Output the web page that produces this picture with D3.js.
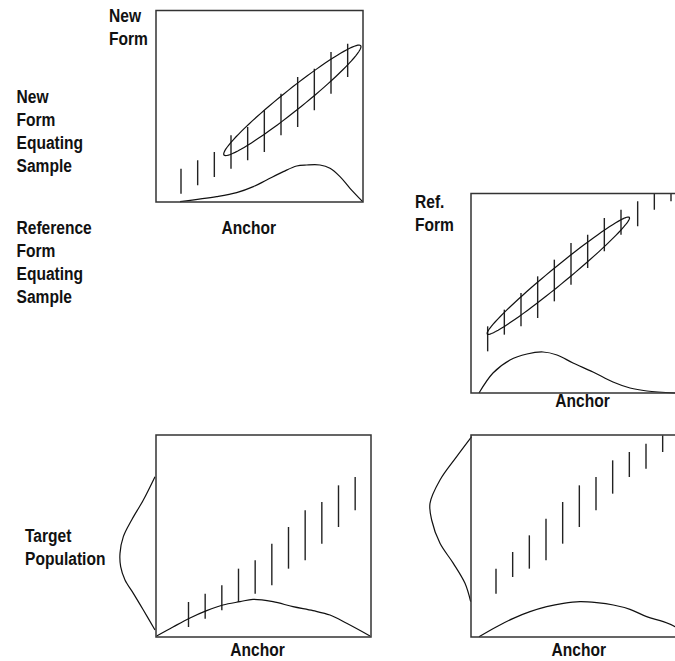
<!DOCTYPE html>
<html>
<head>
<meta charset="utf-8">
<script src="https://cdn.jsdelivr.net/npm/d3@7"></script>
<style>
  html, body { margin: 0; padding: 0; background: #fff; }
  svg { display: block; }
  text { font-family: "Liberation Sans", Arial, sans-serif; font-weight: bold; font-size: 19px; fill: #111; }
</style>
</head>
<body>
<svg id="chart" width="675" height="661"></svg>
<script>
// ---------------- DATA (score units) ----------------
// Conditional spread bars: anchor score, lower and upper bound of the form score
const anchorNew = [15, 25, 35, 45, 55, 65, 75, 85, 95, 105, 115];
const lowNew    = [5, 10, 15, 20, 25, 30, 40, 45, 55, 65, 75];
const highNew   = [20, 25, 30, 40, 45, 55, 65, 75, 80, 90, 95];

const anchorRef = [10, 20, 30, 40, 50, 60, 70, 80, 90, 100, 110, 120];
const lowRef    = [25, 35, 40, 45, 55, 65, 75, 85, 95, 100, 110, 115];
const highRef   = [40, 50, 60, 70, 80, 90, 95, 105, 110, 115, 120, 120];

const anchorTgtNew = [19.5, 29.5, 39.5, 49.5, 59.5, 69.5, 79.5, 89.5, 99.5, 109.5, 119.5];
const lowTgtNew    = [6, 11, 16, 21, 26, 31, 41, 46, 56, 66, 76];
const highTgtNew   = [21, 26, 31, 41, 46, 56, 66, 76, 81, 91, 96];

const anchorTgtRef = [15, 25, 35, 45, 55, 65, 75, 85, 95, 105, 115];
const lowTgtRef    = [26, 36, 41, 46, 56, 66, 76, 86, 96, 101, 111];
const highTgtRef   = [41, 51, 61, 71, 81, 91, 96, 106, 111, 116, 121];

// Bivariate ellipses: two tips of the major axis and half width
const ellipseNew = { tipA: [40.8, 28.2], tipB: [122.8, 93.8], half: 6.2 };
const ellipseRef = { tipA: [9.8, 35.4],  tipB: [95, 105.4],   half: 5.0 };

// Anchor score distributions [anchor, density]
const anchorDistNew = [[14.4,0.2],[36.4,3.2],[48.4,5.6],[58.4,9.2],[66.4,13.2],[76.4,18.2],[84.4,21.6],[90.4,22.2],[98.4,22.2],[104.4,20.2],[110.4,15.2],[116.4,8.2],[124,0.2]];
const anchorDistRef = [[4.8,0],[13.2,12],[23.4,19.8],[33.6,23.4],[43.2,24.6],[51.6,22.8],[61.2,18],[73.2,12.6],[85.2,6.6],[95.4,3],[105.6,1.2],[122.4,0]];
const anchorDistTgtNew = [[0.4,0.6],[10.2,6],[20.4,11.4],[30.4,15.8],[40.2,19.2],[50.4,21.2],[58.2,22.6],[70.2,21.2],[82.2,18.2],[94.2,15.8],[104.4,13.2],[114.4,8.2],[128.4,0.6]];
const anchorDistTgtRef = [[4.8,0.2],[15.4,6.2],[25.4,11.2],[35.4,15.2],[45.4,18.2],[55.4,20.2],[65.4,21.2],[75.4,20.6],[85.4,19.2],[95.4,16.6],[105.4,12.2],[115.4,9.2],[122.4,6.2],[131.4,0]];

// Form score distributions in the target population [-density, form score]
const formDistTgtNew = [[-0.6,96.2],[-7.6,82.2],[-14.6,70.2],[-19.6,60.2],[-21.6,50.2],[-21.2,42.2],[-18.6,34.2],[-13.6,26.2],[-7.6,16.2],[-0.6,4.2]];
const formDistTgtRef = [[0.4,120.2],[-8.6,108.2],[-18.6,94.2],[-24.6,80.2],[-23.6,70.2],[-18.6,56.2],[-10.6,44.2],[-3.6,32.2],[-0.2,21.2]];

// Texts
const sampleLabelNew = ["New", "Form", "Equating", "Sample"];
const sampleLabelRef = ["Reference", "Form", "Equating", "Sample"];
const targetLabel = ["Target", "Population"];
const axisNewForm = ["New", "Form"];
const axisRefForm = ["Ref.", "Form"];
const xAxisLabel = "Anchor";

// ---------------- LAYOUT ----------------
const PX = 5 / 3;             // pixels per score unit
const narrow = 0.82;          // condensed text
const lineGap = 23;

const svg = d3.select("#chart");

const panels = [
  { left: 156, top: 10.5, width: 207, height: 191.5,
    anchors: anchorNew, lows: lowNew, highs: highNew, ellipse: ellipseNew,
    bottomDist: anchorDistNew, sideDist: null,
    anchorLabel: [248.8, 234], yLabel: axisNewForm, yLabelPos: [109, 22] },
  { left: 471, top: 193.5, width: 215, height: 199.5,
    anchors: anchorRef, lows: lowRef, highs: highRef, ellipse: ellipseRef,
    bottomDist: anchorDistRef, sideDist: null,
    anchorLabel: [582.5, 407], yLabel: axisRefForm, yLabelPos: [415, 208] },
  { left: 156, top: 435, width: 215, height: 202,
    anchors: anchorTgtNew, lows: lowTgtNew, highs: highTgtNew, ellipse: null,
    bottomDist: anchorDistTgtNew, sideDist: formDistTgtNew,
    anchorLabel: [257.5, 655.5], yLabel: null },
  { left: 471, top: 435, width: 215, height: 202,
    anchors: anchorTgtRef, lows: lowTgtRef, highs: highTgtRef, ellipse: null,
    bottomDist: anchorDistTgtRef, sideDist: formDistTgtRef,
    anchorLabel: [578.8, 655.5], yLabel: null }
];

function drawLines(g, lines, x, y, anchor) {
  const t = g.append("g")
    .attr("transform", `translate(${x},${y}) scale(${narrow},1)`);
  lines.forEach((s, i) => {
    t.append("text").attr("x", 0).attr("y", i * lineGap)
      .attr("text-anchor", anchor || "start").text(s);
  });
}

const defs = svg.append("defs");

panels.forEach((p, pi) => {
  const x = d3.scaleLinear().domain([0, p.width / PX]).range([p.left, p.left + p.width]);
  const y = d3.scaleLinear().domain([0, p.height / PX]).range([p.top + p.height, p.top]);
  const g = svg.append("g");

  defs.append("clipPath").attr("id", "clip" + pi)
    .append("rect").attr("x", p.left).attr("y", p.top)
    .attr("width", p.width).attr("height", p.height);

  const inner = g.append("g").attr("clip-path", `url(#clip${pi})`);

  // spread bars
  inner.selectAll("line.bar").data(p.anchors).join("line")
    .attr("class", "bar")
    .attr("x1", d => x(d)).attr("x2", d => x(d))
    .attr("y1", (d, i) => y(p.lows[i])).attr("y2", (d, i) => y(p.highs[i]))
    .attr("stroke", "#222").attr("stroke-width", 1.4);

  // ellipse
  if (p.ellipse) {
    const e = p.ellipse;
    const cx = (e.tipA[0] + e.tipB[0]) / 2, cy = (e.tipA[1] + e.tipB[1]) / 2;
    const dx = e.tipB[0] - cx, dy = e.tipB[1] - cy;
    const a = Math.hypot(dx, dy);
    const ux = dx / a, uy = dy / a;
    const pts = d3.range(0, 361, 4).map(deg => {
      const t = deg * Math.PI / 180;
      const u = a * Math.cos(t), v = e.half * Math.sin(t);
      return [cx + u * ux - v * uy, cy + u * uy + v * ux];
    });
    inner.append("path")
      .attr("d", d3.line().x(d => x(d[0])).y(d => y(d[1])).curve(d3.curveLinearClosed)(pts))
      .attr("fill", "none").attr("stroke", "#111").attr("stroke-width", 1.2);
  }

  // bottom distribution of anchor
  const distLine = d3.line().x(d => x(d[0])).y(d => y(d[1])).curve(d3.curveCatmullRom.alpha(0.5));
  g.append("path").attr("d", distLine(p.bottomDist))
    .attr("fill", "none").attr("stroke", "#111").attr("stroke-width", 1.2);

  // side distribution (outside left of the box)
  if (p.sideDist) {
    g.append("path").attr("d", distLine(p.sideDist))
      .attr("fill", "none").attr("stroke", "#111").attr("stroke-width", 1.2);
  }

  // box
  g.append("rect")
    .attr("x", x(0)).attr("y", y(p.height / PX))
    .attr("width", x(p.width / PX) - x(0)).attr("height", y(0) - y(p.height / PX))
    .attr("fill", "none").attr("stroke", "#333").attr("stroke-width", 1.5);

  // labels
  drawLines(g, [xAxisLabel], p.anchorLabel[0], p.anchorLabel[1], "middle");
  if (p.yLabel) drawLines(g, p.yLabel, p.yLabelPos[0], p.yLabelPos[1], "start");
});

drawLines(svg, sampleLabelNew, 16.5, 102.7, "start");
drawLines(svg, sampleLabelRef, 16.5, 234, "start");
drawLines(svg, targetLabel, 25, 541.7, "start");
</script>
</body>
</html>
